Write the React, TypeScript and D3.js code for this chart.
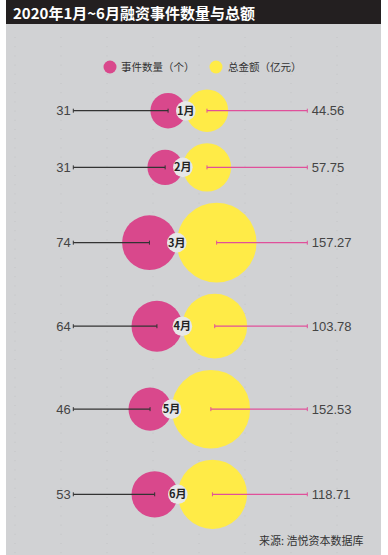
import React from "react";
import * as d3 from "d3";

const months = ["1月", "2月", "3月", "4月", "5月", "6月"];
const counts = [31, 31, 74, 64, 46, 53];
const amounts = [44.56, 57.75, 157.27, 103.78, 152.53, 118.71];
const amountLabels = ["44.56", "57.75", "157.27", "103.78", "152.53", "118.71"];
const legendItems = ["事件数量（个）", "总金额（亿元）"];

const W = 388;
const H = 555;
const PINK = "#d9488c";
const YELLOW = "#ffeb47";
const BG = "#d1d2d4";
const CJK = "'Noto Sans CJK SC', 'Noto Sans', sans-serif";
const NUM = "'Liberation Sans', Arial, sans-serif";

export default function App() {
  const r = d3.scaleSqrt().domain([0, 160]).range([0, 40.2]);
  const centerX = 189.3;
  const gap = 11.3;
  const firstY = 110.7;
  const leftX = 73.3;
  const rightX = 307.3;

  // cumulative row positions based on the larger circle of each row
  const ys: number[] = [];
  months.forEach((_, i) => {
    const rm = Math.max(r(counts[i]), r(amounts[i]));
    if (i === 0) ys.push(firstY);
    else {
      const rp = Math.max(r(counts[i - 1]), r(amounts[i - 1]));
      ys.push(ys[i - 1] + rp + rm + gap);
    }
  });

  const dotCols = d3.range(15, 381, 46);

  return (
    <svg width={W} height={H} style={{ position: "absolute", left: 0, top: 0 }}>
      <rect x={6} y={0} width={375} height={H} fill={BG} />
      <rect x={6} y={0} width={375} height={24} fill="#231f20" />
      {dotCols.map((x) => (
        <line
          key={x}
          x1={x}
          x2={x}
          y1={37}
          y2={H}
          stroke="#c3c4c6"
          strokeWidth={1}
          strokeDasharray="1 8.2"
        />
      ))}
      <text x={13} y={19} fill="#fff" fontFamily={CJK} fontWeight={700} fontSize={15}>
        2020年1月~6月融资事件数量与总额
      </text>

      {/* legend */}
      <circle cx={110} cy={67} r={6.5} fill={PINK} />
      <text x={121} y={71} fontFamily={CJK} fontSize={10.5} fill="#333">
        {legendItems[0]}
      </text>
      <circle cx={216} cy={67} r={6.5} fill={YELLOW} />
      <text x={228} y={71} fontFamily={CJK} fontSize={10.5} fill="#333">
        {legendItems[1]}
      </text>

      {months.map((m, i) => {
        const rp = r(counts[i]);
        const ry = r(amounts[i]);
        const left = centerX - (rp + ry);
        const pcx = left + rp;
        const touch = left + 2 * rp;
        const ycx = touch + ry;
        const y = ys[i];
        return (
          <g key={m}>
            <circle cx={pcx} cy={y} r={rp} fill={PINK} />
            <circle cx={ycx} cy={y} r={ry} fill={YELLOW} />
            <line x1={leftX} x2={pcx} y1={y} y2={y} stroke="#333" strokeWidth={1.2} />
            <line x1={leftX} x2={leftX} y1={y - 2} y2={y + 2} stroke="#333" strokeWidth={1} />
            <line x1={pcx} x2={pcx} y1={y - 2} y2={y + 2} stroke="#333" strokeWidth={1} />
            <line x1={ycx} x2={rightX} y1={y} y2={y} stroke="#e0509a" strokeWidth={1.2} />
            <line x1={ycx} x2={ycx} y1={y - 2} y2={y + 2} stroke="#e0509a" strokeWidth={1} />
            <line x1={rightX} x2={rightX} y1={y - 2} y2={y + 2} stroke="#e0509a" strokeWidth={1} />
            <text
              x={70.7}
              y={y}
              dy="0.36em"
              textAnchor="end"
              fontFamily={NUM}
              fontSize={13}
              fill="#444"
            >
              {counts[i]}
            </text>
            <text x={311.7} y={y} dy="0.36em" fontFamily={NUM} fontSize={13} fill="#444">
              {amountLabels[i]}
            </text>
            <circle cx={touch} cy={y} r={9.8} fill="#e6e7e8" />
            <text
              x={touch}
              y={y}
              dy="0.36em"
              textAnchor="middle"
              fontFamily={CJK}
              fontWeight={700}
              fontSize={11}
              fill="#222"
            >
              {m}
            </text>
          </g>
        );
      })}

      <text x={363.5} y={545} textAnchor="end" fontFamily={CJK} fontSize={11} fill="#333">
        来源: 浩悦资本数据库
      </text>
    </svg>
  );
}
